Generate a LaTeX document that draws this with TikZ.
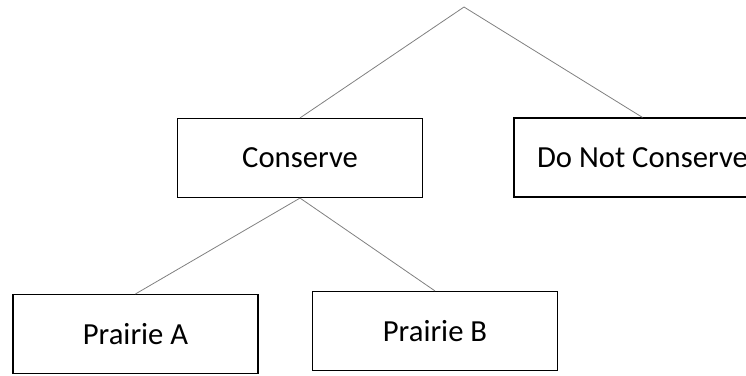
\documentclass[tikz,border=0pt]{standalone}
\usepackage{fontspec}
\setmainfont{Carlito}
\usetikzlibrary{positioning}

\begin{document}
\begin{tikzpicture}[x=0.75pt,y=-0.75pt]
        \tikzstyle{choice}=[draw, line width=1.1pt, minimum width=184pt, minimum height=59pt, inner sep=0pt, font=\fontsize{23}{27}\selectfont]
        \tikzstyle{branch}=[gray, line width=0.6pt]
        \useasboundingbox (0,0) rectangle (746,375);
        \clip (0,0) rectangle (746,375);

        % Root of the tree
        \coordinate (root) at (464,7);

        % First level
        \node (cons)[choice] at (300,158) {Conserve};
        \node (notcons)[choice, minimum width=193pt] at (642.5,157.5) {Do Not Conserve};

        % Second level
        \node (prA)[choice] at (135.5,334) {Prairie A};
        \node (prB)[choice] at (435,331) {Prairie B};

        % Branches
        \draw[branch] (root) -- (cons.north);
        \draw[branch] (root) -- (notcons.north);
        \draw[branch] (cons.south) -- (prA.north);
        \draw[branch] (cons.south) -- (prB.north);
    \end{tikzpicture}
\end{document}
